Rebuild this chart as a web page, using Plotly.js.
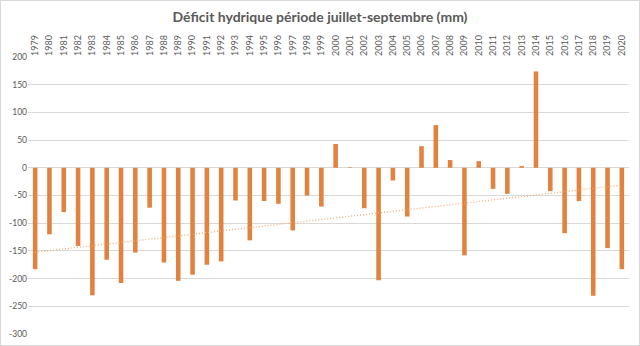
<!DOCTYPE html>
<html>
<head>
<meta charset="utf-8">
<script src="https://cdn.plot.ly/plotly-3.0.1.min.js"></script>
<style>
  html, body { margin: 0; padding: 0; background: #ffffff; }
  #frame { width: 640px; height: 346px; box-sizing: border-box; border: 1px solid #d9d9d9; }
  #chart { width: 638px; height: 344px; }
</style>
</head>
<body>
<div id="frame"><div id="chart"></div></div>
<script>
// Years (categories)
const years = [1979,1980,1981,1982,1983,1984,1985,1986,1987,1988,1989,1990,1991,1992,1993,1994,1995,1996,1997,1998,1999,2000,2001,2002,2003,2004,2005,2006,2007,2008,2009,2010,2011,2012,2013,2014,2015,2016,2017,2018,2019,2020];
// Water deficit July-September (mm)
const deficit = [-183,-120,-80,-141,-230,-166,-208,-153,-72,-171,-204,-193,-175,-169,-59,-131,-60,-65,-113,-50,-70,43,1,-73,-203,-23,-88,39,77,14,-158,12,-38,-47,3,174,-42,-118,-60,-231,-145,-183];
// Y tick labels
const yTickVals = [200,150,100,50,0,-50,-100,-150,-200,-250,-300];
const yTickText = ["200","150","100","50","0","-50","-100","-150","-200","-250","-300"];

// Linear trendline (least squares on the data, as Excel does)
const n = years.length;
const idx = years.map((_, i) => i + 1);
const mx = idx.reduce((a, b) => a + b, 0) / n;
const my = deficit.reduce((a, b) => a + b, 0) / n;
let sxy = 0, sxx = 0;
for (let i = 0; i < n; i++) { sxy += (idx[i] - mx) * (deficit[i] - my); sxx += (idx[i] - mx) ** 2; }
const slope = sxy / sxx;
const icpt = my - slope * mx;
const trend = idx.map(t => icpt + slope * t);

const cats = years.map(String);
const font = "Lato, Open Sans, sans-serif";

const data = [
  {
    type: 'bar', x: cats, y: deficit,
    marker: { color: '#E2823F' },
    hoverinfo: 'x+y'
  },
  {
    type: 'scatter', mode: 'lines', x: cats, y: trend,
    line: { color: '#EFA878', width: 1.3, dash: '1px,2px' },
    hoverinfo: 'skip'
  }
];

const layout = {
  width: 638, height: 344,
  margin: { l: 27, r: 10, t: 56, b: 11 },
  paper_bgcolor: '#ffffff', plot_bgcolor: '#ffffff',
  showlegend: false,
  bargap: 0.68,
  title: {
    text: 'Déficit hydrique période juillet-septembre (mm)',
    font: { family: font, size: 14, color: '#595959', weight: 'bold' },
    x: 0.5, xanchor: 'center', y: 0.952, yanchor: 'middle'
  },
  xaxis: {
    type: 'category', side: 'top',
    tickangle: -90,
    tickfont: { family: font, size: 9, color: '#595959' },
    showgrid: false, showline: false, zeroline: false,
    ticks: '', ticklen: 0
  },
  yaxis: {
    range: [-300, 200],
    tickvals: yTickVals, ticktext: yTickText,
    tickfont: { family: font, size: 8.5, color: '#595959' },
    gridcolor: '#d9d9d9', gridwidth: 1,
    zeroline: true, zerolinecolor: '#d9d9d9', zerolinewidth: 1,
    showline: false, ticks: ''
  }
};

Plotly.newPlot('chart', data, layout, { displayModeBar: false, staticPlot: true });
</script>
</body>
</html>
